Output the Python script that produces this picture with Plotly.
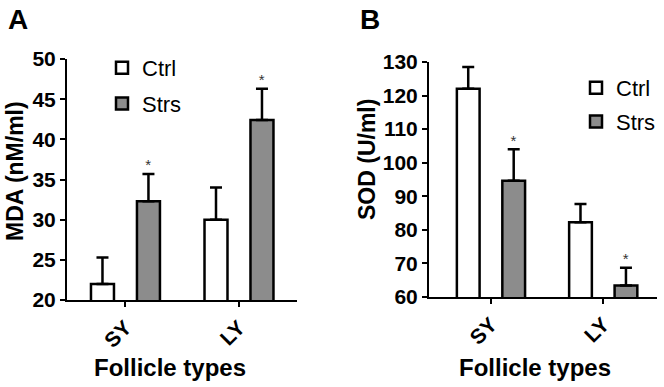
import plotly.graph_objects as go

categories = ["SY", "LY"]
mda_ctrl = [22.0, 30.0]
mda_ctrl_err = [3.3, 4.0]
mda_strs = [32.3, 42.4]
mda_strs_err = [3.4, 3.9]
sod_ctrl = [122.0, 82.3]
sod_ctrl_err = [6.5, 5.4]
sod_strs = [94.6, 63.4]
sod_strs_err = [9.4, 5.3]
mda_sig = [True, True]
sod_sig = [True, True]
mda_ticks = [20, 25, 30, 35, 40, 45, 50]
sod_ticks = [60, 70, 80, 90, 100, 110, 120, 130]

FONT = "Arial, Liberation Sans, sans-serif"
GRAY = "#8c8c8c"
xpos = list(range(len(categories)))

fig = go.Figure()

def add_bars(xa, ya, ctrl, cerr, strs, serr, legend):
    fig.add_trace(go.Bar(
        x=xpos, y=ctrl, name="Ctrl", xaxis=xa, yaxis=ya,
        marker=dict(color="white", line=dict(color="black", width=2.5)),
        error_y=dict(type="data", symmetric=False, array=cerr,
                     arrayminus=[0] * len(cerr), color="black",
                     thickness=2.5, width=6),
        offsetgroup="c", legend=legend, legendgroup=legend + "c"))
    fig.add_trace(go.Bar(
        x=xpos, y=strs, name="Strs", xaxis=xa, yaxis=ya,
        marker=dict(color=GRAY, line=dict(color="black", width=2.5)),
        error_y=dict(type="data", symmetric=False, array=serr,
                     arrayminus=[0] * len(serr), color="black",
                     thickness=2.5, width=6),
        offsetgroup="s", legend=legend, legendgroup=legend + "s"))

add_bars("x", "y", mda_ctrl, mda_ctrl_err, mda_strs, mda_strs_err, "legend")
add_bars("x2", "y2", sod_ctrl, sod_ctrl_err, sod_strs, sod_strs_err, "legend2")

# significance asterisks above Strs bars
def add_stars(xa, ya, vals, errs, sig):
    xs, ys = [], []
    for i in xpos:
        if sig[i]:
            xs.append(i + 0.2)
            ys.append(vals[i] + errs[i])
    fig.add_trace(go.Scatter(
        x=xs, y=ys, xaxis=xa, yaxis=ya, mode="text", text=["*"] * len(xs),
        textposition="top center", textfont=dict(size=15, color="#333333", family=FONT),
        showlegend=False, hoverinfo="skip"))

add_stars("x", "y", mda_strs, mda_strs_err, mda_sig)
add_stars("x2", "y2", sod_strs, sod_strs_err, sod_sig)

W, H = 664, 387
def px(x):
    return x / W
def py(y):
    return 1 - y / H

axis_common = dict(showline=True, linecolor="black", linewidth=2,
                   ticks="outside", ticklen=5, tickwidth=2, tickcolor="black",
                   showgrid=False, zeroline=False, automargin=False,
                   tickfont=dict(family=FONT, size=21, color="black", weight="bold"))

def ann(text, x, y, size, angle=0):
    return dict(text=text, x=px(x), y=py(y), xref="paper", yref="paper",
                xanchor="center", yanchor="middle", showarrow=False,
                textangle=angle, font=dict(size=size, family=FONT, color="black"))

fig.update_layout(
    width=W, height=H, margin=dict(l=0, r=0, t=0, b=0, autoexpand=False),
    paper_bgcolor="white", plot_bgcolor="white",
    barmode="group", bargap=0.19, bargroupgap=0.5,
    font=dict(family=FONT, color="black"),
    xaxis=dict(domain=[px(67), px(297)], range=[-0.515, 1.511],
               tickvals=xpos, ticktext=categories, tickangle=-45,
               anchor="y", **axis_common),
    yaxis=dict(domain=[py(300), py(59)], range=[20, 50], tickvals=mda_ticks,
               anchor="x", **axis_common),
    xaxis2=dict(domain=[px(429), px(657)], range=[-0.552, 1.479],
                tickvals=xpos, ticktext=categories, tickangle=-45,
                anchor="y2", **axis_common),
    yaxis2=dict(domain=[py(297), py(62)], range=[60, 130], tickvals=sod_ticks,
                anchor="x2", **axis_common),
    legend=dict(x=px(102), y=py(47), xanchor="left", yanchor="top",
                xref="container", yref="container",
                font=dict(family=FONT, size=22, color="black"),
                tracegroupgap=4, bgcolor="rgba(0,0,0,0)"),
    legend2=dict(x=px(576), y=py(67), xanchor="left", yanchor="top",
                 xref="container", yref="container",
                 font=dict(family=FONT, size=22, color="black"),
                 tracegroupgap=2, bgcolor="rgba(0,0,0,0)"),
    annotations=[
        ann("<b>A</b>", 18, 19, 28),
        ann("<b>B</b>", 370, 19, 28),
        ann("<b>MDA (nM/ml)</b>", 15, 171, 23, -90),
        ann("<b>SOD (U/ml)</b>", 367, 160, 23, -90),
        ann("<b>Follicle types</b>", 170, 367, 24),
        ann("<b>Follicle types</b>", 535, 367, 24),
    ],
)

fig.write_html("out.html", config={"displayModeBar": False},
               post_script="document.body.style.margin='0px';")
